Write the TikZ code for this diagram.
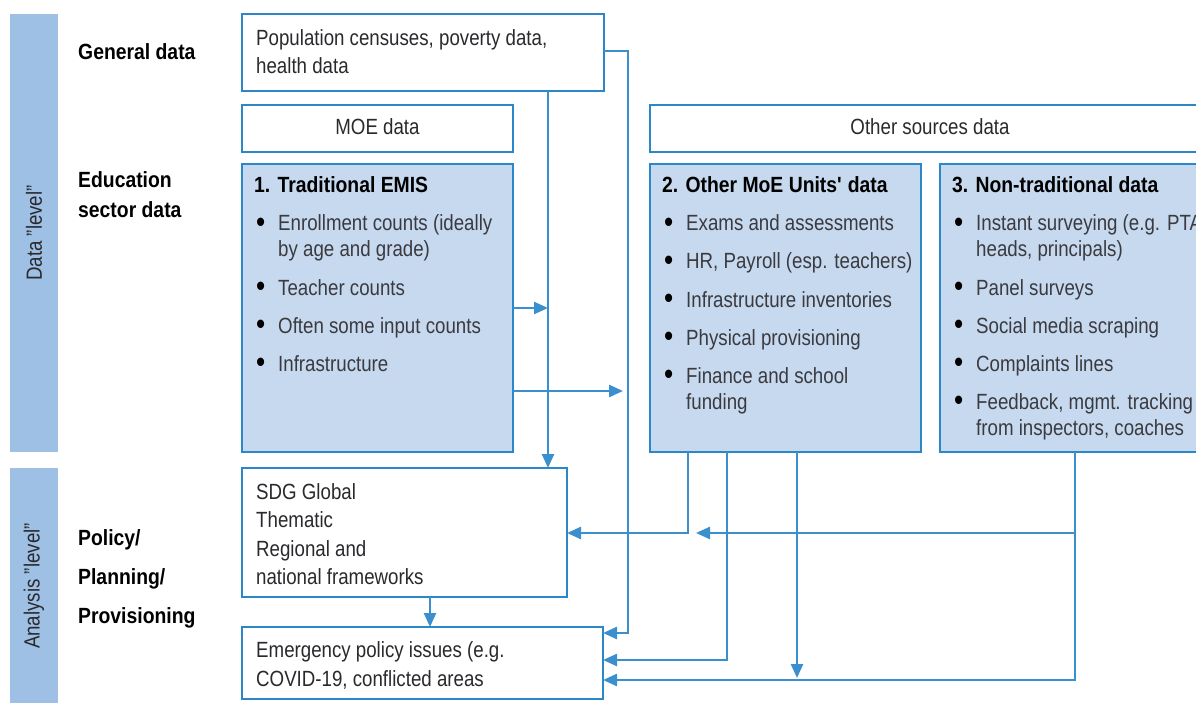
\documentclass[tikz,border=0pt]{standalone}
\usepackage{fontspec}
\setmainfont{Liberation Sans}[FakeStretch=0.85, BoldFeatures={FakeStretch=0.88}]
\usetikzlibrary{arrows.meta}
\definecolor{bstroke}{HTML}{2C87C9}
\definecolor{acol}{HTML}{3B8FCE}
\definecolor{bfill}{HTML}{C6D9EE}
\definecolor{barfill}{HTML}{9FC0E5}
\definecolor{tcol}{HTML}{2A2A2E}
\definecolor{gtxt}{HTML}{3A3A40}
\newcommand\bul{\makebox[22pt][l]{\color{black}\raisebox{-1.6pt}{\scalebox{1.4}{•}}}}
\begin{document}
\begin{tikzpicture}[x=1pt,y=-1pt,
  wbox/.style={draw=bstroke, line width=2.4pt, fill=white, inner sep=0pt, outer sep=0pt, anchor=north west},
  bbox/.style={wbox, fill=bfill},
  bar/.style={fill=barfill, draw=none, inner sep=0pt, outer sep=0pt, anchor=north west},
  txt/.style={anchor=base west, inner sep=0pt, font=\fontsize{22}{26}\selectfont, text=tcol},
  btxt/.style={txt, text=gtxt},
  ctxt/.style={txt, anchor=base},
  ttl/.style={txt, font=\fontsize{22}{26}\selectfont\bfseries, text=black},
  vtxt/.style={inner sep=0pt, font=\fontsize{22}{26}\selectfont, text=tcol, rotate=90},
  ln/.style={draw=acol, line width=2.4pt},
  arr/.style={ln, -{Triangle[length=14pt,width=12pt]}}]
\useasboundingbox (0,0) rectangle (1196,703);
\clip (0,0) rectangle (1196,703);

% side bars
\node[bar, minimum width=48pt, minimum height=438pt] (barD) at (10,14) {};
\node[vtxt] (barDt) at (barD.center) {Data "level"};
\node[bar, minimum width=48pt, minimum height=245pt] (barA) at (10,468) {};
\node[vtxt] (barAt) at (34,586) {Analysis "level"};

% row labels
\node[ttl] (lg) at (78,60) {General data};
\node[ttl] (le1) at (78,188) {Education};
\node[ttl] (le2) at (78,218) {sector data};
\node[ttl] (lp1) at (78,545) {Policy/};
\node[ttl] (lp2) at (78,584) {Planning/};
\node[ttl] (lp3) at (78,623) {Provisioning};

% boxes
\node[wbox, minimum width=362pt, minimum height=77pt] (pop) at (242,14) {};
\node[wbox, minimum width=271pt, minimum height=47pt] (moe) at (242,105) {};
\node[bbox, minimum width=271pt, minimum height=288pt] (emis) at (242,164) {};
\node[wbox, minimum width=560pt, minimum height=47pt] (oth) at (650,105) {};
\node[bbox, minimum width=271pt, minimum height=288pt] (b2) at (650,164) {};
\node[bbox, minimum width=280pt, minimum height=288pt] (b3) at (940,164) {};
\node[wbox, minimum width=325pt, minimum height=129pt] (sdg) at (242,468) {};
\node[wbox, minimum width=361pt, minimum height=72pt] (emg) at (242,627) {};

% texts
\node[txt] (pop1) at (256,46) {Population censuses, poverty data,};
\node[txt] (pop2) at (256,74) {health data};
\node[ctxt] (moet) at (377.5,135) {MOE data};
\node[ctxt] (otht) at (930,135) {Other sources data};

\node[ttl] (emist) at (254,193) {1. Traditional EMIS};
\node[btxt] (e1) at (256,231) {\bul Enrollment counts (ideally};
\node[btxt] (e1c) at (278,257) {by age and grade)};
\node[btxt] (e2) at (256,295) {\bul Teacher counts};
\node[btxt] (e3) at (256,333) {\bul Often some input counts};
\node[btxt] (e4) at (256,371) {\bul Infrastructure};

\node[ttl] (b2t) at (662,193) {2. Other MoE Units\textquotesingle\ data};
\node[btxt] (o1) at (664,231) {\bul Exams and assessments};
\node[btxt] (o2) at (664,269) {\bul HR, Payroll (esp. teachers)};
\node[btxt] (o3) at (664,307) {\bul Infrastructure inventories};
\node[btxt] (o4) at (664,345) {\bul Physical provisioning};
\node[btxt] (o5) at (664,383) {\bul Finance and school};
\node[btxt] (o5c) at (686,409) {funding};

\node[ttl] (b3t) at (952,193) {3. Non-traditional data};
\node[btxt] (n1) at (954,231) {\bul Instant surveying (e.g. PTA};
\node[btxt] (n1c) at (976,257) {heads, principals)};
\node[btxt] (n2) at (954,295) {\bul Panel surveys};
\node[btxt] (n3) at (954,333) {\bul Social media scraping};
\node[btxt] (n4) at (954,371) {\bul Complaints lines};
\node[btxt] (n5) at (954,409) {\bul Feedback, mgmt. tracking};
\node[btxt] (n5c) at (976,435) {from inspectors, coaches};

\node[txt] (s1) at (256,499) {SDG Global};
\node[txt] (s2) at (256,527) {Thematic};
\node[txt] (s3) at (256,556) {Regional and};
\node[txt] (s4) at (256,584) {national frameworks};

\node[txt] (m1) at (256,657) {Emergency policy issues (e.g.};
\node[txt] (m2) at (256,686) {COVID-19, conflicted areas};

% helper coordinates
\coordinate (xA) at (548,0);
\coordinate (xB) at (628,0);
\coordinate (xC) at (688,0);
\coordinate (xD) at (727,0);
\coordinate (xE) at (797,0);
\coordinate (xF) at (1075,0);
\coordinate (xG) at (430,0);
\coordinate (y1) at (0,51);
\coordinate (y2) at (0,308);
\coordinate (y3) at (0,391);
\coordinate (y4) at (0,533);
\coordinate (y5) at (0,633);
\coordinate (y6) at (0,660);
\coordinate (y7) at (0,680);
\coordinate (tipE) at (797,678);
\coordinate (tipR) at (623,391);
\coordinate (tipM) at (696,533);

% connectors
\draw[arr] (pop.south -| xA) -- (sdg.north -| xA);
\draw[arr] (pop.east |- y1) -| (xB |- y5) -- (emg.east |- y5);
\draw[arr] (emis.east |- y2) -- (xA |- y2);
\draw[arr] (emis.east |- y3) -- (tipR);
\draw[arr] (sdg.south -| xG) -- (emg.north -| xG);
\draw[arr] (b2.south -| xC) |- (sdg.east |- y4);
\draw[arr] (b3.south -| xF) |- (tipM);
\draw[arr] (b2.south -| xD) |- (emg.east |- y6);
\draw[arr] (b2.south -| xE) -- (tipE);
\draw[arr] (xF |- y4) |- (emg.east |- y7);
\end{tikzpicture}
\end{document}
